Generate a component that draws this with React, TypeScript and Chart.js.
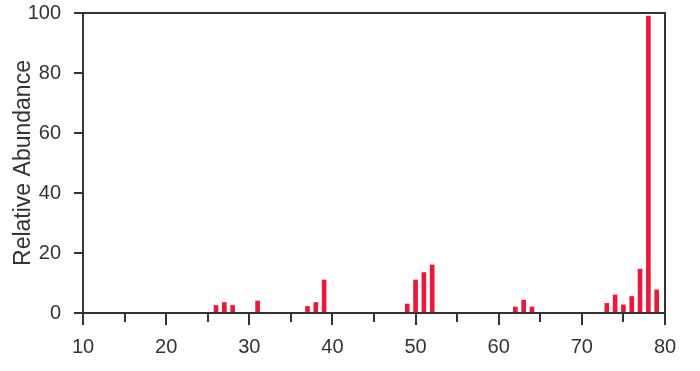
import React, { useEffect, useRef } from "react";
import { Chart, registerables } from "chart.js";

Chart.register(...registerables);

const massToCharge = [26, 27, 28, 31, 37, 38, 39, 49, 50, 51, 52, 62, 63, 64, 73, 74, 75, 76, 77, 78, 79];
const relativeAbundance = [2.5, 3.5, 2.5, 4, 2.2, 3.5, 11, 3, 11, 13.5, 16, 2, 4.3, 2, 3.2, 6, 2.7, 5.5, 14.6, 99, 7.7];
const xTicks = [10, 20, 30, 40, 50, 60, 70, 80];
const xMinorTicks = [15, 25, 35, 45, 55, 65, 75];
const yTicks = [0, 20, 40, 60, 80, 100];

const AXIS = "#333333";
const TEXT = "#333333";
const FONT = "'Liberation Sans', Arial, Helvetica, sans-serif";

const framePlugin = {
  id: "frame",
  afterDraw(chart: any) {
    const { ctx, chartArea } = chart;
    const { left, right, top, bottom } = chartArea;
    const xs = chart.scales.x;
    const ys = chart.scales.y;
    ctx.save();
    ctx.strokeStyle = AXIS;
    ctx.lineWidth = 2;
    ctx.beginPath();
    ctx.moveTo(left, bottom);
    ctx.lineTo(left, top);
    ctx.lineTo(right, top);
    ctx.lineTo(right, bottom);
    ctx.lineTo(left, bottom);
    ctx.stroke();
    ctx.beginPath();
    xTicks.forEach((v) => {
      const px = Math.round(xs.getPixelForValue(v));
      ctx.moveTo(px, bottom);
      ctx.lineTo(px, bottom + 12);
    });
    xMinorTicks.forEach((v) => {
      const px = Math.round(xs.getPixelForValue(v));
      ctx.moveTo(px, bottom);
      ctx.lineTo(px, bottom + 9);
    });
    yTicks.forEach((v) => {
      const py = Math.round(ys.getPixelForValue(v));
      ctx.moveTo(left, py);
      ctx.lineTo(left - 9, py);
    });
    ctx.stroke();
    ctx.restore();
  },
};

export default function App() {
  const ref = useRef<HTMLCanvasElement | null>(null);
  useEffect(() => {
    document.body.style.margin = "0";
    const canvas = ref.current!;
    const chart = new Chart(canvas, {
      type: "bar",
      data: {
        datasets: [
          {
            data: massToCharge.map((m, i) => ({ x: m, y: relativeAbundance[i] })),
            backgroundColor: "#e8193c",
            barThickness: 4,
            borderWidth: 0,
          },
        ],
      },
      options: {
        animation: false,
        responsive: false,
        maintainAspectRatio: false,
        layout: { padding: { top: 13, right: 35, left: 0, bottom: 0 } },
        plugins: { legend: { display: false }, tooltip: { enabled: false } },
        scales: {
          x: {
            type: "linear",
            min: 10,
            max: 80,
            offset: false,
            afterBuildTicks(scale: any) {
              scale.ticks = xTicks.map((v) => ({ value: v }));
            },
            afterFit(scale: any) {
              scale.height = 58;
              scale.paddingLeft = 0;
              scale.paddingRight = 0;
            },
            border: { display: false },
            grid: { display: false },
            ticks: {
              color: TEXT,
              font: { family: FONT, size: 20 },
              padding: 14,
              maxRotation: 0,
              autoSkip: false,
            },
          },
          y: {
            min: 0,
            max: 100,
            afterBuildTicks(scale: any) {
              scale.ticks = yTicks.map((v) => ({ value: v }));
            },
            afterFit(scale: any) {
              scale.width = 83;
              scale.paddingTop = 0;
              scale.paddingBottom = 0;
            },
            border: { display: false },
            grid: { display: false },
            ticks: {
              color: TEXT,
              font: { family: FONT, size: 20 },
              padding: 14,
              autoSkip: false,
            },
            title: {
              display: true,
              text: "Relative Abundance",
              color: TEXT,
              font: { family: FONT, size: 23 },
              padding: { top: 10, bottom: 0 },
            },
          },
        },
      },
      plugins: [framePlugin],
    });
    return () => chart.destroy();
  }, []);
  return (
    <div style={{ position: "fixed", left: 0, top: 0, width: 700, height: 371, background: "#fff" }}>
      <canvas ref={ref} width={700} height={371} style={{ display: "block" }} />
    </div>
  );
}
